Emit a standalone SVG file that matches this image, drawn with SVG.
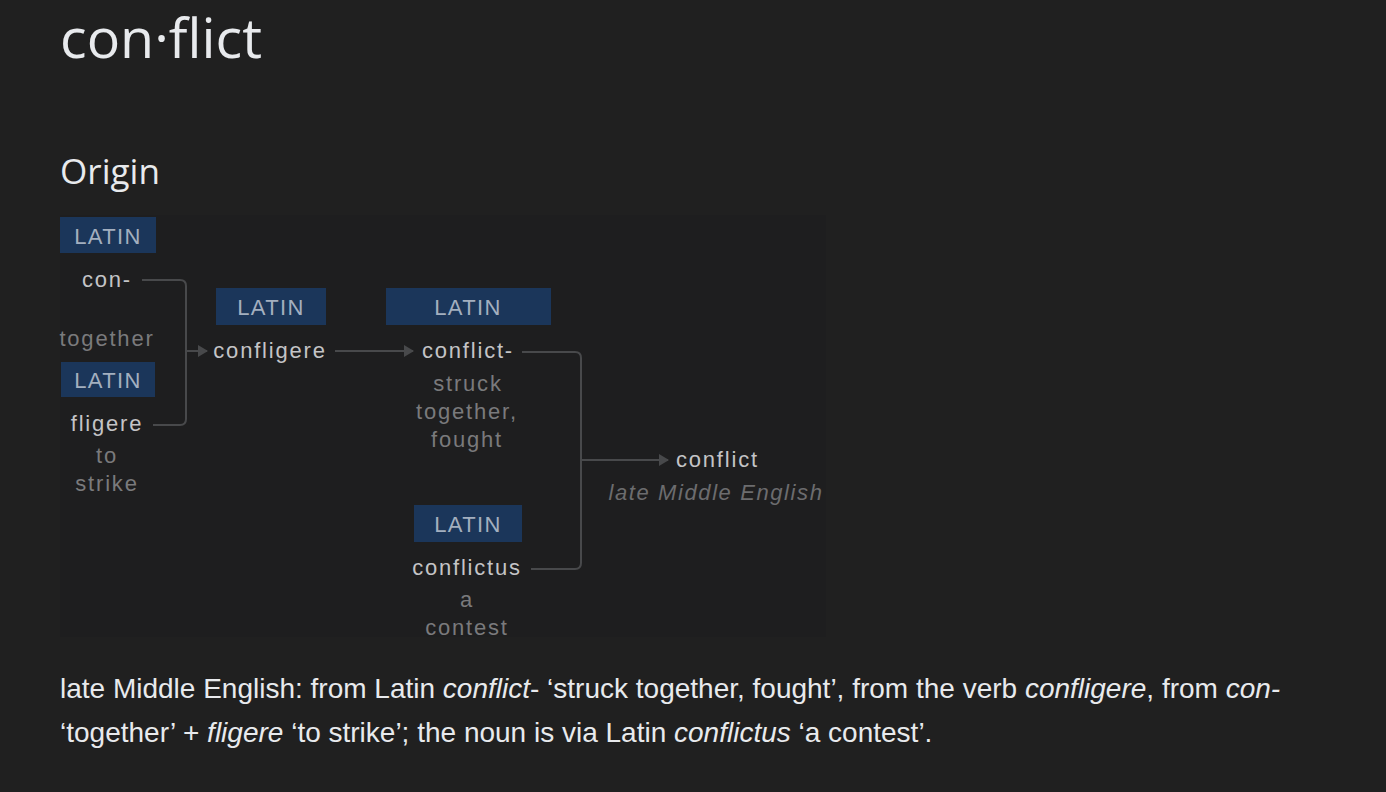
<svg xmlns="http://www.w3.org/2000/svg" width="1386" height="792" viewBox="0 0 1386 792">
<style>
.title{font-family:"Open Sans","Liberation Sans",sans-serif;fill:#e8eaed}
.lang{fill:#1b365a}
.langt{font-family:"Liberation Sans",Arial,sans-serif;font-size:22px;fill:#a3afbf;text-anchor:middle;letter-spacing:1.4px}
.word{font-family:"Liberation Sans",Arial,sans-serif;font-size:22px;fill:#c4c4c6;text-anchor:middle;letter-spacing:1.8px}
.gloss{font-family:"Liberation Sans",Arial,sans-serif;font-size:22px;fill:#7a7a7c;text-anchor:middle;letter-spacing:1.8px}
.para{font-family:"Liberation Sans",Arial,sans-serif;font-size:28px;fill:#e8eaed}
.con{fill:none;stroke:#48494b;stroke-width:2}
</style>
<defs>
<marker id="ah" markerWidth="10" markerHeight="12" refX="9" refY="6" orient="auto" markerUnits="userSpaceOnUse">
<path d="M0,0 L10,6 L0,12 Z" fill="#48494b"/>
</marker>
</defs>
<rect width="1386" height="792" fill="#202020"/>
<rect x="60" y="215" width="766" height="422" fill="#1e1e1f"/>
<text class="title" x="60" y="58" font-size="54" textLength="202" lengthAdjust="spacingAndGlyphs">con·flict</text>
<text class="title" x="60" y="184" font-size="35" textLength="100" lengthAdjust="spacingAndGlyphs">Origin</text>

<g id="connectors">
<path class="con" d="M142,280 H180 Q186,280 186,286 V419 Q186,425 180,425 H153"/>
<path class="con" d="M186,351 H207" marker-end="url(#ah)"/>
<path class="con" d="M335,351 H413" marker-end="url(#ah)"/>
<path class="con" d="M522,352 H575 Q581,352 581,358 V563 Q581,569 575,569 H531"/>
<path class="con" d="M581,460 H668" marker-end="url(#ah)"/>
</g>

<g id="n-con">
<rect class="lang" x="60" y="217" width="96" height="36"/>
<text class="langt" x="108" y="244">LATIN</text>
<text class="word" x="107" y="287">con-</text>
<text class="gloss" x="107" y="346">together</text>
</g>
<g id="n-fligere">
<rect class="lang" x="61" y="362" width="94" height="35"/>
<text class="langt" x="108" y="388">LATIN</text>
<text class="word" x="107" y="431">fligere</text>
<text class="gloss" x="107" y="463">to</text>
<text class="gloss" x="107" y="491">strike</text>
</g>
<g id="n-confligere">
<rect class="lang" x="216" y="288" width="110" height="37"/>
<text class="langt" x="271" y="315">LATIN</text>
<text class="word" x="270" y="358">confligere</text>
</g>
<g id="n-conflict-">
<rect class="lang" x="386" y="288" width="165" height="37"/>
<text class="langt" x="468" y="315">LATIN</text>
<text class="word" x="468" y="358">conflict-</text>
<text class="gloss" x="468" y="391">struck</text>
<text class="gloss" x="467" y="419">together,</text>
<text class="gloss" x="467" y="447">fought</text>
</g>
<g id="n-conflictus">
<rect class="lang" x="414" y="505" width="108" height="37"/>
<text class="langt" x="468" y="532">LATIN</text>
<text class="word" x="467" y="575">conflictus</text>
<text class="gloss" x="467" y="607">a</text>
<text class="gloss" x="467" y="635">contest</text>
</g>
<g id="n-conflict">
<text class="word" x="676" y="467" style="text-anchor:start">conflict</text>
<text class="gloss" x="716" y="500" font-style="italic" style="fill:#6c6c6e;letter-spacing:1.6px">late Middle English</text>
</g>

<text class="para" x="60" y="698">late Middle English: from Latin <tspan font-style="italic">conflict</tspan>- ‘struck together, fought’, from the verb <tspan font-style="italic">confligere</tspan>, from <tspan font-style="italic">con-</tspan></text>
<text class="para" x="60" y="742">‘together’ + <tspan font-style="italic">fligere</tspan> ‘to strike’; the noun is via Latin <tspan font-style="italic">conflictus</tspan> ‘a contest’.</text>
</svg>
